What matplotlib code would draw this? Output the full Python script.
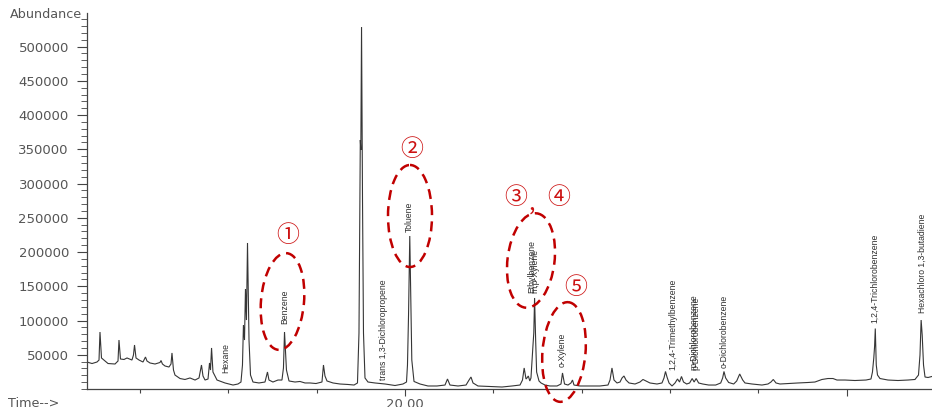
import matplotlib
matplotlib.use("Agg")
import matplotlib.pyplot as plt
from matplotlib.patches import Ellipse
from matplotlib.ticker import MultipleLocator

# ---------------- data ----------------
time_min = [
    16.400, 16.457, 16.513, 16.536, 16.547, 16.564, 16.592, 16.638, 16.717, 16.751,
    16.762, 16.779, 16.819, 16.853, 16.909, 16.926, 16.938, 16.955, 16.989, 17.034,
    17.062, 17.079, 17.113, 17.170, 17.226, 17.238, 17.254, 17.283, 17.328, 17.351,
    17.362, 17.379, 17.396, 17.453, 17.509, 17.566, 17.623, 17.668, 17.696, 17.713,
    17.736, 17.770, 17.787, 17.798, 17.810, 17.826, 17.872, 17.962, 18.053, 18.109,
    18.143, 18.160, 18.171, 18.183, 18.194, 18.205, 18.217, 18.234, 18.251, 18.279,
    18.347, 18.415, 18.443, 18.460, 18.505, 18.562, 18.607, 18.624, 18.636, 18.647,
    18.658, 18.687, 18.755, 18.811, 18.868, 18.925, 18.992, 19.060, 19.077, 19.094,
    19.117, 19.185, 19.264, 19.355, 19.423, 19.462, 19.479, 19.494, 19.500, 19.508,
    19.519, 19.530, 19.547, 19.581, 19.660, 19.774, 19.887, 19.977, 20.017, 20.028,
    20.040, 20.049, 20.054, 20.066, 20.077, 20.102, 20.170, 20.260, 20.362, 20.453,
    20.481, 20.509, 20.600, 20.691, 20.725, 20.747, 20.770, 20.826, 20.962, 21.098,
    21.211, 21.302, 21.330, 21.349, 21.370, 21.381, 21.396, 21.413, 21.426, 21.438,
    21.449, 21.458, 21.467, 21.479, 21.490, 21.517, 21.540, 21.585, 21.641, 21.721,
    21.766, 21.783, 21.806, 21.845, 21.879, 21.896, 21.913, 21.981, 22.094, 22.207,
    22.298, 22.321, 22.343, 22.366, 22.400, 22.434, 22.457, 22.479, 22.502, 22.536,
    22.604, 22.660, 22.694, 22.728, 22.773, 22.853, 22.909, 22.932, 22.949, 22.966,
    22.989, 23.023, 23.057, 23.085, 23.108, 23.130, 23.153, 23.189, 23.222, 23.251,
    23.273, 23.296, 23.324, 23.370, 23.438, 23.517, 23.574, 23.596, 23.611, 23.630,
    23.664, 23.721, 23.755, 23.789, 23.823, 23.849, 23.928, 24.041, 24.109, 24.143,
    24.169, 24.200, 24.245, 24.336, 24.449, 24.562, 24.641, 24.720, 24.788, 24.845,
    24.890, 24.981, 25.094, 25.219, 25.275, 25.292, 25.307, 25.316, 25.324, 25.335,
    25.349, 25.377, 25.468, 25.581, 25.694, 25.773, 25.813, 25.830, 25.843, 25.855,
    25.870, 25.887, 25.921, 25.966,
]
abundance = [
    39400, 37200, 39400, 42300, 83200, 45300, 42300, 37200, 36500, 40900,
    71500, 43800, 43100, 45300, 42300, 49600, 64200, 45300, 42300, 39400,
    46700, 40900, 38000, 36500, 38700, 41600, 36500, 33600, 32100, 36500,
    52600, 27700, 20400, 15300, 13900, 16100, 13100, 16100, 35000, 19000,
    13100, 14600, 38000, 27700, 59900, 24800, 13100, 8800, 5800, 7300,
    10200, 35000, 93400, 71500, 146000, 100700, 213200, 71500, 20400, 10200,
    8800, 10200, 24800, 13100, 10200, 13100, 13100, 30700, 83200, 56900,
    27700, 11700, 10200, 11000, 8800, 8800, 8000, 10200, 35000, 19000,
    11700, 8800, 7300, 6600, 5800, 8800, 81800, 363500, 349000, 528500,
    275900, 81800, 16100, 10200, 8800, 7300, 5100, 7300, 10200, 35000,
    108000, 181000, 223400, 129900, 42300, 11000, 7300, 4400, 4400, 5800,
    14600, 5800, 4400, 5800, 13100, 17500, 8800, 4400, 3700, 2900,
    4400, 5800, 13100, 30700, 14600, 16100, 19000, 11700, 16100, 42300,
    64200, 81800, 132900, 71500, 24800, 11700, 8800, 5800, 4400, 4400,
    7300, 23400, 7300, 5800, 8800, 13100, 5800, 4400, 4400, 4400,
    5800, 13100, 30700, 13100, 8800, 10200, 16100, 19000, 13100, 8800,
    7300, 10200, 13900, 11700, 8800, 7300, 8800, 16100, 25600, 17500,
    8800, 4400, 8800, 14600, 10200, 18300, 10200, 7300, 8800, 15300,
    10200, 15300, 8800, 7300, 5800, 5800, 8800, 16100, 25600, 16100,
    9500, 7300, 11700, 21900, 13100, 8800, 7300, 5800, 7300, 10200,
    13900, 8800, 7300, 8000, 8800, 9500, 10200, 13900, 15300, 15300,
    13100, 13100, 12400, 13100, 14600, 24800, 45300, 62100, 88300, 35000,
    20400, 15300, 13100, 12400, 13100, 13900, 20400, 49600, 100700, 78800,
    35000, 17500, 16800, 18300,
]

y_ticks = [50000, 100000, 150000, 200000, 250000, 300000, 350000, 400000, 450000, 500000]
x_major_ticks = [20, 25]
x_major_labels = ["20.00", ""]

peak_names = ["Hexane", "Benzene", "trans 1,3-Dichloropropene", "Toluene",
              "Ethylbenzene", "m,p-Xylene", "o-Xylene", "1,2,4-Trimethylbenzene",
              "m-Dichlorobenzene", "p-Dichlorobenzene", "o-Dichlorobenzene",
              "1,2,4-Trichlorobenzene", "Hexachloro 1,3-butadiene"]
marker_texts = ["\u2460", "\u2461", "\u2462", ",", "\u2463", "\u2464"]

# ---------------- figure ----------------
W, H = 932, 407
fig = plt.figure(figsize=(W / 100, H / 100), dpi=100)
fig.patch.set_facecolor("white")

left_px, right_px, top_px, bot_px = 87, 932, 13, 389
ax = fig.add_axes([left_px / W, (H - bot_px) / H, (right_px - left_px) / W, (bot_px - top_px) / H])
ax.plot(time_min, abundance, color="#363636", lw=0.8, solid_joinstyle="miter")
ax.set_xlim(16.40, 25.966)
ax.set_ylim(0, 549000)

for s in ("top", "right"):
    ax.spines[s].set_visible(False)
for s in ("left", "bottom"):
    ax.spines[s].set_color("#444444")
    ax.spines[s].set_linewidth(0.9)

ax.set_yticks(y_ticks)
ax.set_yticklabels([str(v) for v in y_ticks])
ax.yaxis.set_minor_locator(MultipleLocator(10000))
ax.set_xticks(x_major_ticks)
ax.set_xticklabels(x_major_labels)
ax.xaxis.set_minor_locator(MultipleLocator(1))

ax.tick_params(axis="y", which="major", length=7.5, width=0.8, pad=5.5,
               labelsize=9.5, labelcolor="#555555", color="#444444")
ax.tick_params(axis="y", which="minor", length=4, width=0.6, color="#444444")
ax.tick_params(axis="x", which="major", length=5, width=0.8, pad=1.5,
               labelsize=9.5, labelcolor="#555555", color="#444444")
ax.tick_params(axis="x", which="minor", length=3, width=0.8, color="#444444")

# ---------------- overlay in pixel coordinates ----------------
ov = fig.add_axes([0, 0, 1, 1], facecolor="none")
ov.set_xlim(0, W)
ov.set_ylim(H, 0)
ov.axis("off")

ov.text(10, 15, "Abundance", fontsize=9.2, color="#555555", ha="left", va="center")
ov.text(8, 397, "Time-->", fontsize=9.2, color="#555555", ha="left", va="top")

label_pos = [(226, 373), (284.5, 324), (384, 380), (409.5, 232), (532, 293), (534.5, 293),
             (562.5, 367), (673, 370), (694, 370), (696, 370), (724, 368),
             (875, 323), (922.5, 313)]
for name, (px, py) in zip(peak_names, label_pos):
    ov.text(px, py, name, rotation=90, ha="center", va="bottom",
            fontsize=6.2, color="#2e2e2e", family=["Liberation Sans", "DejaVu Sans"])

red = "#cc1111"
marker_pos = [(287.5, 235), (411.5, 149), (516, 198), (532, 204), (559, 198), (576, 288)]
for t, (px, py) in zip(marker_texts, marker_pos):
    ov.text(px, py, t, ha="center", va="center", fontsize=16.5, color=red,
            family=["Noto Sans CJK KR", "DejaVu Sans"])

ellipses = [((282.5, 301.5), 43, 97, 5), ((410, 216), 44, 102, 0),
            ((531, 260.5), 47, 95, 7), ((564, 352), 43, 100, 5)]
for (c, w, h, ang) in ellipses:
    ov.add_patch(Ellipse(c, w, h, angle=ang, fill=False, edgecolor="#c00000",
                         lw=1.8, linestyle=(0, (4, 2.5))))

fig.savefig("out.png", dpi=100)
